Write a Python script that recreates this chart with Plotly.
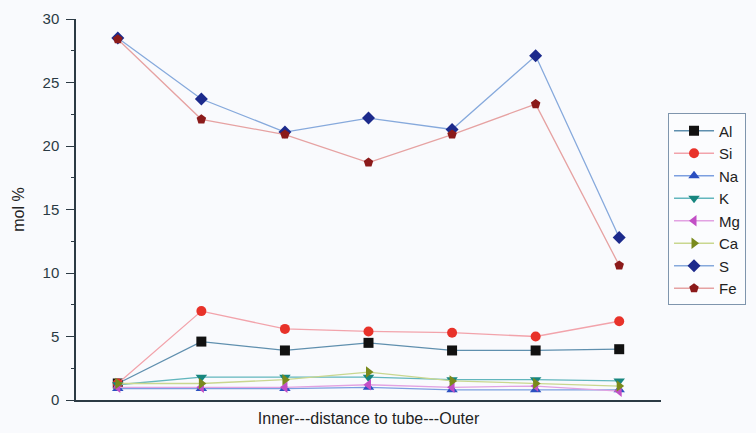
import plotly.graph_objects as go

# Sampling positions from the inner wall to the outer wall
positions = [0, 1, 2, 3, 4, 5, 6]

al = [1.3, 4.6, 3.9, 4.5, 3.9, 3.9, 4.0]
si = [1.3, 7.0, 5.6, 5.4, 5.3, 5.0, 6.2]
na = [0.9, 0.9, 0.9, 1.0, 0.8, 0.8, 0.8]
k = [1.2, 1.8, 1.8, 1.8, 1.6, 1.6, 1.5]
mg = [1.0, 1.0, 1.0, 1.2, 1.0, 1.1, 0.7]
ca = [1.3, 1.3, 1.6, 2.2, 1.5, 1.3, 1.1]
s = [28.5, 23.7, 21.1, 22.2, 21.3, 27.1, 12.8]
fe = [28.4, 22.1, 20.9, 18.7, 20.9, 23.3, 10.6]

series = [
    ("Al", al, "square", "#111111", "#5f8fae"),
    ("Si", si, "circle", "#e8322a", "#f2a3ab"),
    ("Na", na, "triangle-up", "#2b4fc0", "#7c9fe0"),
    ("K", k, "triangle-down", "#17867f", "#62b6bd"),
    ("Mg", mg, "triangle-left", "#c24fc6", "#e2a2e2"),
    ("Ca", ca, "triangle-right", "#7a8a1c", "#c9d78f"),
    ("S", s, "diamond", "#1c2a8c", "#86a9dc"),
    ("Fe", fe, "pentagon", "#8b1a1a", "#e6a2a2"),
]

fig = go.Figure()
for name, vals, sym, mcol, lcol in series:
    fig.add_trace(go.Scatter(
        x=positions, y=vals, name=name, mode="lines+markers",
        line=dict(color=lcol, width=1.3),
        marker=dict(symbol=sym, size=10, color=mcol, line=dict(width=0)),
    ))

fig.update_layout(
    width=756, height=433,
    margin=dict(l=76, r=95, t=19, b=33, autoexpand=False),
    paper_bgcolor="#f9fafd",
    plot_bgcolor="#f9fafd",
    font=dict(family="Liberation Sans, Arial, sans-serif", size=14, color="#2a2a2a"),
    showlegend=True,
    legend=dict(
        x=1.012, xanchor="left", y=0.752, yanchor="top",
        bgcolor="#fbfcfe", bordercolor="#7f95ad", borderwidth=1,
        font=dict(size=15, color="#222222"),
        tracegroupgap=0, itemwidth=40,
    ),
    xaxis=dict(
        range=[-0.5, 6.5], showgrid=False, zeroline=False, automargin=False,
        showline=True, linecolor="#2c3a44", linewidth=1.5,
        showticklabels=False, ticks="",
        title=dict(text="Inner---distance to tube---Outer", standoff=12,
                   font=dict(size=16, color="#222222")),
    ),
    yaxis=dict(
        range=[0, 30], showgrid=False, zeroline=False, automargin=False,
        showline=True, linecolor="#2c3a44", linewidth=1.5,
        tickmode="array", tickvals=[0, 5, 10, 15, 20, 25, 30],
        ticks="outside", ticklen=8, tickcolor="#2c3a44",
        ticklabelstandoff=4,
        minor=dict(tickvals=[2.5, 7.5, 12.5, 17.5, 22.5, 27.5],
                   ticks="outside", ticklen=3, tickcolor="#2c3a44"),
        tickfont=dict(size=15, color="#2a3a44"),
        title=dict(text="mol %", standoff=14, font=dict(size=16, color="#222222")),
    ),
)

fig.write_html("out.html")
